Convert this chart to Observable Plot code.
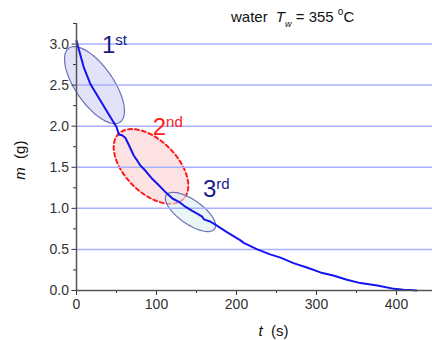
<!DOCTYPE html>
<html><head><meta charset="utf-8">
<script src="https://cdn.jsdelivr.net/npm/d3@7"></script>
<script src="https://cdn.jsdelivr.net/npm/@observablehq/plot@0.6"></script>
<style>body{margin:0;background:#fff;font-family:Arial,"Liberation Sans",sans-serif}</style>
</head><body><div id="chart"></div>
<script>
// ---- data ----
const time = [0, 3, 9, 17.5, 30, 42.5, 50, 53, 57, 61, 65, 71.7, 76, 80, 86, 94.6, 101, 111, 120, 128, 136, 144.6, 152, 157, 159, 161, 167, 172, 188, 205, 209, 226, 242, 255, 272, 288, 305, 322, 338, 355, 376, 397, 409, 418, 425];
const mass = [3.04, 2.93, 2.72, 2.51, 2.31, 2.11, 1.99, 1.90, 1.89, 1.86, 1.78, 1.64, 1.58, 1.52, 1.46, 1.36, 1.30, 1.20, 1.12, 1.08, 1.02, 0.97, 0.93, 0.90, 0.87, 0.86, 0.84, 0.81, 0.71, 0.61, 0.58, 0.50, 0.44, 0.40, 0.33, 0.28, 0.22, 0.18, 0.13, 0.09, 0.06, 0.02, 0.01, 0.005, 0];
const gridLevels = [0.5, 1.0, 1.5, 2.0, 2.5, 3.0];
const xTicks = [0, 100, 200, 300, 400];
const xMinorTicks = [50, 150, 250, 350];
const yTicks = [0, 0.5, 1.0, 1.5, 2.0, 2.5, 3.0];
const yMinorTicks = [0.25, 0.75, 1.25, 1.75, 2.25, 2.75, 3.25];
// stage regions: centre (t, m) and two conjugate semi-axes in data units
const stageNames = ["1", "2", "3"];
const stageSuffix = ["st", "nd", "rd"];
const stageCenterT = [22.5, 93.1, 142.5];
const stageCenterM = [2.50, 1.51, 0.956];
const stageAxisA = [[32, -0.45], [40.6, -0.396], [30.2, -0.206]];
const stageAxisB = [[-19.5, -0.131], [-23, -0.224], [-8.6, -0.120]];
const stageLabelT = [32.5, 95.9, 158.75];
const stageLabelM = [2.88, 1.884, 1.132];

const series = time.map((t, i) => ({t, m: mass[i]}));
function ellipsePts(k) {
  const pts = [];
  for (let j = 0; j <= 90; j++) {
    const a = j / 90 * 2 * Math.PI;
    pts.push({
      t: stageCenterT[k] + Math.cos(a) * stageAxisA[k][0] + Math.sin(a) * stageAxisB[k][0],
      m: stageCenterM[k] + Math.cos(a) * stageAxisA[k][1] + Math.sin(a) * stageAxisB[k][1]
    });
  }
  return pts;
}
const ellStyle = [
  {fill: "#d2d2f6", fillOpacity: 0.65, stroke: "#6b73b6", strokeWidth: 1.2},
  {fill: "#fbd6d6", fillOpacity: 0.7, stroke: "#ff1a1a", strokeWidth: 2, strokeDasharray: "4,3"},
  {fill: "#dcf0f0", fillOpacity: 0.6, stroke: "#6b73b6", strokeWidth: 1.2}
];
const labelColor = ["#1a1a8a", "#ff1a1a", "#1a1a8a"];

const NS = "http://www.w3.org/2000/svg";
function makeText(parts, x, y, attrs) {
  const t = document.createElementNS(NS, "text");
  t.setAttribute("x", x); t.setAttribute("y", y);
  t.setAttribute("text-anchor", "start");
  for (const k in attrs) t.setAttribute(k, attrs[k]);
  for (const p of parts) {
    const s = document.createElementNS(NS, "tspan");
    s.textContent = p.text;
    for (const k in p) if (k !== "text") s.setAttribute(k, p[k]);
    t.appendChild(s);
  }
  return t;
}

const annotations = (index, scales) => {
  const g = document.createElementNS(NS, "g");
  g.setAttribute("font-family", "Arial, 'Liberation Sans', sans-serif");
  for (let k = 0; k < 3; k++) {
    g.appendChild(makeText([
      {text: stageNames[k], "font-size": 24},
      {text: stageSuffix[k], "font-size": 15, dy: -8}
    ], scales.x(stageLabelT[k]), scales.y(stageLabelM[k]), {fill: labelColor[k]}));
  }
  g.appendChild(makeText([
    {text: "water "},
    {text: "T", "font-style": "italic", dx: 4},
    {text: "w", "font-style": "italic", "font-size": 9, dy: 5},
    {text: " = 355 ", dy: -5},
    {text: "o", "font-size": 10, dy: -7},
    {text: "C", dy: 7}
  ], scales.x(193.75), scales.y(3.263), {"font-size": 15, fill: "#111", "xml:space": "preserve"}));
  // axis titles
  g.appendChild(makeText([
    {text: "t", "font-style": "italic"},
    {text: "  (s)"}
  ], scales.x(228), 336, {"font-size": 15, fill: "#111", "xml:space": "preserve"}));
  g.appendChild(makeText([
    {text: "m", "font-style": "italic"},
    {text: "  (g)"}
  ], 0, 0, {"font-size": 15, fill: "#111", "text-anchor": "middle", "xml:space": "preserve",
    transform: `translate(25,${scales.y(1.58)}) rotate(-90)`}));
  return g;
};

const marks = [];
for (let k = 0; k < 3; k++) {
  marks.push(Plot.line(ellipsePts(k), {x: "t", y: "m", curve: "linear", ...ellStyle[k]}));
}
marks.push(
  Plot.ruleY(gridLevels, {stroke: "#a9b0ff", strokeWidth: 1.5}),
  Plot.line(series, {x: "t", y: "m", stroke: "#1414ee", strokeWidth: 2}),
  Plot.axisX({ticks: xTicks, tickSize: 5, tickPadding: 4, fontSize: 14, color: "#333", label: null, tickFormat: d3.format("d")}),
  Plot.axisX({ticks: xMinorTicks, tickSize: 3, text: null, label: null, color: "#333"}),
  Plot.axisY({ticks: yTicks, tickSize: 4.5, tickPadding: 3, fontSize: 14, color: "#333", label: null, tickFormat: d3.format(".1f")}),
  Plot.axisY({ticks: yMinorTicks, tickSize: 3, text: null, label: null, color: "#333"}),
  Plot.ruleX([0], {stroke: "#555", strokeWidth: 1.5}),
  Plot.ruleY([0], {stroke: "#555", strokeWidth: 1.5}),
  annotations
);

const chart = Plot.plot({
  width: 432, height: 340,
  marginLeft: 76, marginRight: 0, marginTop: 23, marginBottom: 50,
  style: {fontFamily: "Arial, 'Liberation Sans', sans-serif", background: "#fff", overflow: "visible"},
  x: {domain: [0, 445]},
  y: {domain: [0, 3.25]},
  marks
});
document.getElementById("chart").appendChild(chart);
</script></body></html>
